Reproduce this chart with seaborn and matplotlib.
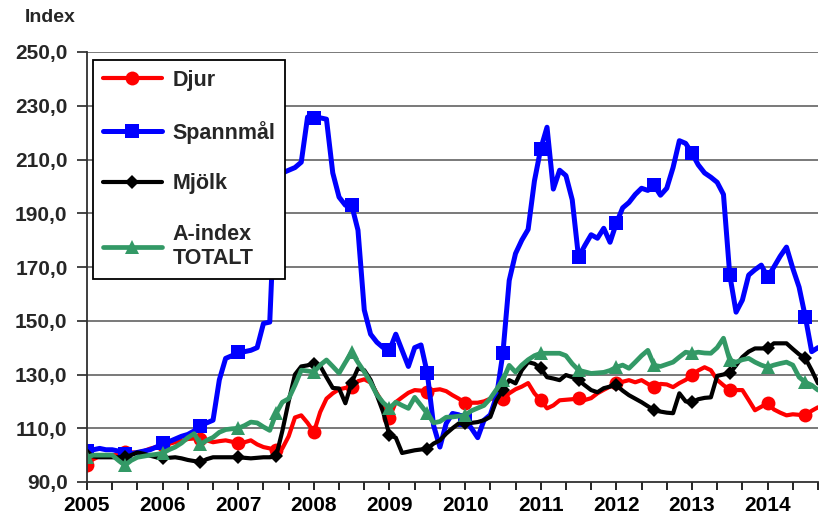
import numpy as np
import pandas as pd
import matplotlib
matplotlib.use("Agg")
import matplotlib.pyplot as plt
import seaborn as sns
from matplotlib.ticker import FixedLocator, FuncFormatter

# --- data: monthly index values, Jan 2005 - Sep 2014 ---
years = [str(y) for y in range(2005, 2015)]

djur = [96.5, 98.5, 99.5, 100, 100, 100, 101, 101, 101, 101.5, 102.4, 103,
        103.6, 104.2, 104.8, 105.3, 106, 106.2, 106, 105.5, 104.8, 105.2, 105.5, 105,
        104.4, 104.8, 105.5, 104, 103, 102.5, 101.8, 102.5, 107, 114, 114.8, 112,
        108.5, 116, 121, 123, 124.5, 125, 125.3, 127.5, 128.2, 127, 123, 119,
        114, 119.7, 121.5, 123.2, 124.2, 124, 123.5, 124.2, 124.5, 123.8, 122.3, 121,
        119.3, 119.5, 119.5, 120, 121, 121, 121, 123, 124.5, 125.5, 126.8, 123,
        120.4, 117.4, 118.5, 120.4, 120.6, 120.8, 121.1, 120.5, 121.2, 123, 124.3, 125.5,
        126.7, 127.3, 127.9, 127.1, 127.9, 126.5, 125.3, 126.5, 126.3, 125.3, 126.8, 128,
        129.8, 131.5, 132.7, 131.6, 128, 126, 124.2, 124.2, 124.2, 120.5, 116.7, 118,
        119.3, 117, 115.8, 114.8, 115.2, 115, 114.8, 116.5, 117.8]

spannmal = [101.5, 102, 102.5, 102, 102, 101.5, 100.5, 100.5, 101, 101.5, 102, 103,
            104.4, 105, 106, 107, 107.7, 109, 111, 112, 113, 128, 136, 137,
            138.3, 138.5, 139, 140, 149, 149.5, 205, 205, 206, 207, 209, 225.8,
            225.4, 225.5, 225, 205, 196, 193, 193, 183.7, 154, 145, 142, 140,
            139, 145, 139, 133, 140, 141, 130.5, 111, 103, 111.8, 115.5, 115,
            113, 110, 106.5, 113, 115, 122, 138, 165, 175, 180, 184, 202,
            214, 222, 199, 206, 204, 195, 173.6, 178, 182, 180.7, 184.4, 179.2,
            186.3, 192, 194, 197, 199.3, 198.5, 200.4, 196.7, 199.3, 207, 217, 216,
            212.3, 208, 205, 203.4, 201.5, 197, 167, 153.2, 157.7, 167, 169, 170.7,
            166.2, 170, 174, 177.4, 169.5, 162.5, 151.3, 138.5, 140]

mjolk = [100, 99.5, 99.2, 99.2, 99.2, 99.2, 99.2, 100, 101, 100.5, 99.8, 99.2,
         98.8, 99, 99.2, 98.8, 98.2, 97.8, 97.4, 98.5, 99.2, 99.2, 99.2, 99.2,
         99.2, 99, 98.8, 99, 99.2, 99.2, 99.5, 109, 120, 130, 133, 133.4,
         134, 133.2, 129, 125, 124.8, 119.3, 127, 132.3, 131.6, 128, 122.3, 116,
         107.4, 106.5, 100.8, 101.3, 101.8, 102.1, 102.4, 104.3, 105.5, 108, 110, 111.8,
         111.8, 112, 112.3, 113, 114.2, 120.5, 124.1, 127.9, 126.7, 131.6, 134.6, 134,
         132.3, 129, 128.5, 127.9, 129.8, 129, 127.9, 126, 124.2, 123.4, 124.9, 125.5,
         126, 124, 122.3, 121, 119.7, 118.2, 116.7, 116.2, 115.8, 115.6, 123, 120,
         119.7, 120.8, 121.3, 121.5, 129.5, 130, 130.4, 133.4, 136.5, 138.5, 139.7, 139.7,
         139.7, 141.6, 141.6, 141.6, 139.5, 137.5, 136, 131.6, 126.7]

a_index = [99.2, 100, 100, 100, 100, 98, 96.2, 98, 99.2, 99.6, 100, 100.3,
           100.7, 102, 103, 104.5, 106.5, 108, 104, 105.5, 106.6, 108.5, 109.5, 109.8,
           110, 111, 112.3, 112, 110.5, 109.2, 115.5, 119.7, 121, 126, 131.6, 131.3,
           130.9, 133.5, 135.4, 133, 130.5, 134.5, 138.3, 134.5, 131, 127, 122.5, 119.5,
           117.4, 119.7, 118.5, 117.4, 121.5, 118.5, 115.5, 112, 112.5, 114.1, 114.2, 114.5,
           114.8, 116.5, 117.5, 118.5, 121.1, 124.5, 127.9, 133.4, 130.9, 133.5, 135.5, 137,
           137.9, 137.9, 137.9, 137.9, 137, 134, 131.6, 131, 130.4, 130.6, 130.8, 131.5,
           132.7, 133.5, 132.3, 134.6, 137, 139, 133.4, 133, 133.8, 134.6, 136.5, 138.3,
           137.9, 138.3, 138, 137.9, 140, 143.5, 135.3, 134.6, 135.5, 136, 134.6, 133.5,
           132.7, 133.5, 134.1, 134.6, 133.5, 129, 127.1, 126, 124.2]

month = np.arange(len(djur))
df = pd.DataFrame({"month": month, "Djur": djur, "Spannmål": spannmal,
                   "Mjölk": mjolk, "A-index\nTOTALT": a_index})

sns.set_style("white")
plt.rcParams["font.family"] = ["Liberation Sans", "DejaVu Sans"]
plt.rcParams["font.weight"] = "bold"

fig = plt.figure(figsize=(8.19, 5.15), dpi=100)
ax = fig.add_axes([87 / 819, 1 - 482 / 515, 731 / 819, 430 / 515])

styles = [("Djur", "#ff0000", "o", 3, 10),
          ("Spannmål", "#0000ff", "s", 3.6, 10),
          ("Mjölk", "#000000", "D", 3, 7.5),
          ("A-index\nTOTALT", "#339966", "^", 3.4, 10.5)]
for name, col, mk, lw, ms in styles:
    sns.lineplot(data=df, x="month", y=name, ax=ax, color=col, lw=lw,
                 marker=mk, markersize=ms, markevery=6, markeredgewidth=0,
                 label=name)

ax.set_xlim(0, 116)
ax.set_ylim(90, 250)
ax.set_yticks(np.arange(90, 251, 20))
ax.yaxis.set_major_formatter(FuncFormatter(lambda v, p: f"{v:.1f}".replace(".", ",")))
ax.set_xticks(np.arange(0, 117, 12))
ax.set_xticklabels(years)
ax.xaxis.set_minor_locator(FixedLocator(np.arange(0, 117, 4)))
ax.tick_params(axis="x", which="both", direction="out", length=6, width=1.2,
               bottom=True, labelsize=15, pad=4, colors="black")
ax.tick_params(axis="y", direction="out", length=7, width=1.2, left=True,
               labelsize=15, pad=7)
ax.set_xlabel("")
ax.set_ylabel("")

for yv in range(110, 251, 20):
    ax.axhline(yv, color="#6e6e6e", lw=1.3, zorder=0)

for s in ["top", "right"]:
    ax.spines[s].set_visible(False)
for s in ["left", "bottom"]:
    ax.spines[s].set_color("#303030")
    ax.spines[s].set_linewidth(1.3)

leg = ax.legend(loc="upper left", bbox_to_anchor=(0.008, 0.981), borderaxespad=0,
                fontsize=15.5, handlelength=2.75, handletextpad=0.5, labelspacing=1.38,
                borderpad=0.45, fancybox=False, framealpha=1, edgecolor="black")
leg.get_frame().set_linewidth(1.3)

fig.text(25 / 819, 1 - 18 / 515, "Index", fontsize=14, fontweight="bold", va="center")

fig.savefig("out.png", dpi=100)
